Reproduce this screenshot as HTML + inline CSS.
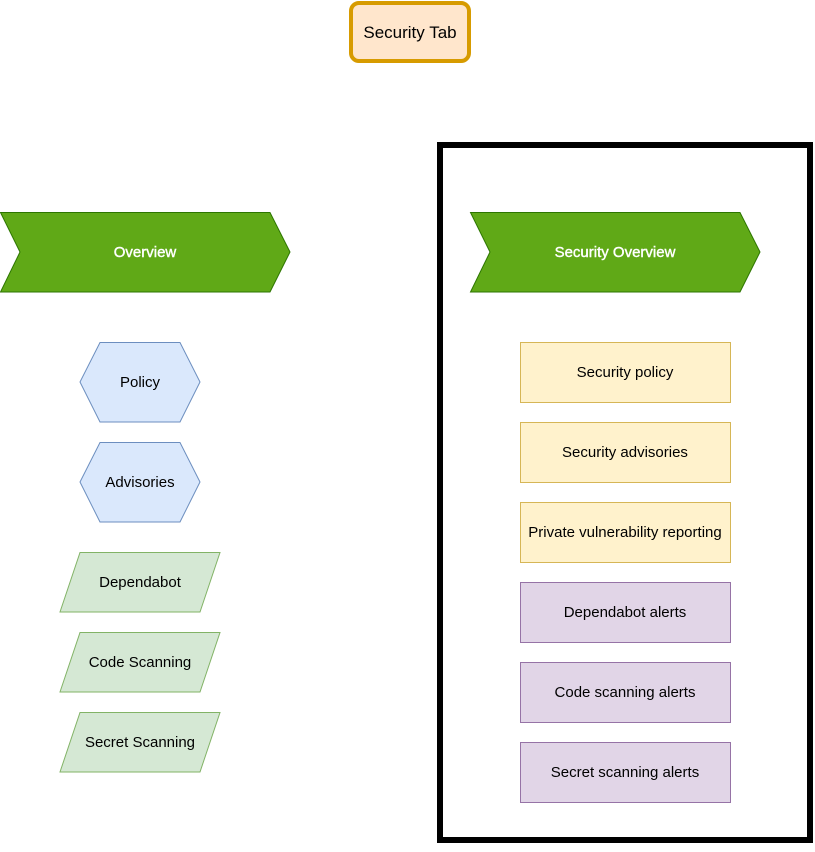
<!DOCTYPE html>
<html><head><meta charset="utf-8"><style>body{margin:0;background:#fff}</style></head>
<body>
<svg width="815" height="847" xmlns="http://www.w3.org/2000/svg" font-family="Liberation Sans, Arial, sans-serif" font-size="15" text-anchor="middle">
<rect x="351" y="3" width="118" height="58" rx="8" fill="#ffe6cc" stroke="#d79b00" stroke-width="4"/>
<text x="410" y="38" font-size="17">Security Tab</text>
<rect x="440" y="145" width="370" height="695" fill="none" stroke="#000" stroke-width="6"/>
<polygon points="0.5,212.5 270,212.5 290,252 270,292 0.5,292 20,252" fill="#60a917" stroke="#2d7600"/>
<text x="145" y="257" fill="#fff" stroke="#fff" stroke-width="0.4">Overview</text>
<polygon points="470.5,212.5 740,212.5 760,252 740,292 470.5,292 490,252" fill="#60a917" stroke="#2d7600"/>
<text x="615" y="257" fill="#fff" stroke="#fff" stroke-width="0.4">Security Overview</text>
<g fill="#dae8fc" stroke="#6c8ebf">
<polygon points="100,342.5 180,342.5 200,382 180,422 100,422 80,382"/>
<polygon points="100,442.5 180,442.5 200,482 180,522 100,522 80,482"/>
</g>
<text x="140" y="387">Policy</text>
<text x="140" y="487">Advisories</text>
<g fill="#d5e8d4" stroke="#82b366">
<polygon points="80,552.5 220,552.5 200,612 60,612"/>
<polygon points="80,632.5 220,632.5 200,692 60,692"/>
<polygon points="80,712.5 220,712.5 200,772 60,772"/>
</g>
<text x="140" y="587">Dependabot</text>
<text x="140" y="667">Code Scanning</text>
<text x="140" y="747">Secret Scanning</text>
<g fill="#fff2cc" stroke="#d6b656">
<rect x="520.5" y="342.5" width="210" height="60"/>
<rect x="520.5" y="422.5" width="210" height="60"/>
<rect x="520.5" y="502.5" width="210" height="60"/>
</g>
<g fill="#e1d5e7" stroke="#9673a6">
<rect x="520.5" y="582.5" width="210" height="60"/>
<rect x="520.5" y="662.5" width="210" height="60"/>
<rect x="520.5" y="742.5" width="210" height="60"/>
</g>
<text x="625" y="377">Security policy</text>
<text x="625" y="457">Security advisories</text>
<text x="625" y="537">Private vulnerability reporting</text>
<text x="625" y="617">Dependabot alerts</text>
<text x="625" y="697">Code scanning alerts</text>
<text x="625" y="777">Secret scanning alerts</text>
</svg>
</body></html>
